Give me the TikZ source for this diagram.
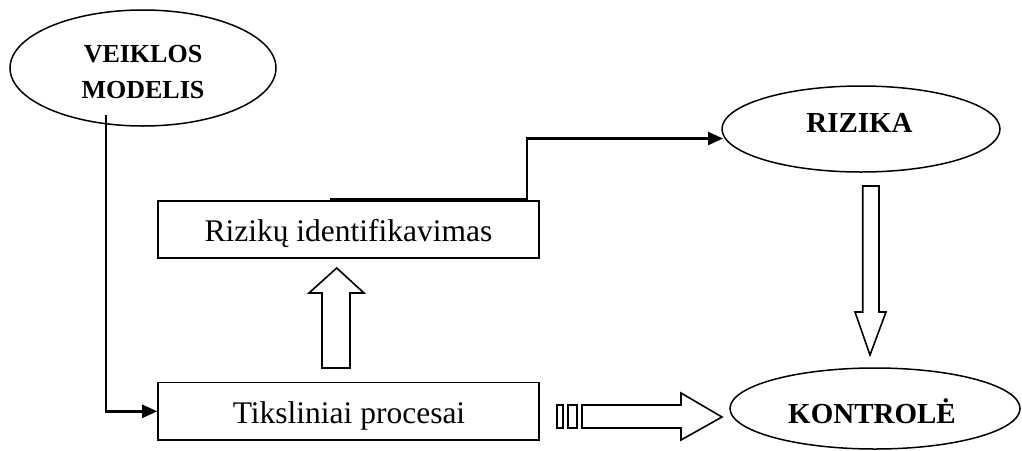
\documentclass[tikz,border=0pt]{standalone}
\usepackage{fontspec}
\setmainfont{Liberation Serif}
\usetikzlibrary{arrows.meta,shapes.geometric}
\begin{document}
\begin{tikzpicture}[x=1pt,y=-1pt,
  oval/.style={draw,ellipse,line width=1.5pt,inner sep=0pt},
  box/.style={draw,rectangle,line width=1.6pt,inner sep=0pt},
  boldtxt/.style={anchor=base,inner sep=0pt,font=\bfseries\fontsize{29}{34}\selectfont},
  regtxt/.style={anchor=base,inner sep=0pt,font=\fontsize{31.5}{36}\selectfont},
  conn/.style={line width=2.4pt,-{Triangle[length=15pt,width=13pt]}},
  hollow/.style={draw,line width=1.6pt,fill=white,line join=miter}]
\useasboundingbox (0,0) rectangle (1022,450);

% ellipses
\node[oval,minimum width=266pt,minimum height=116pt] (veik) at (143,68) {};
\node[oval,minimum width=278pt,minimum height=86pt] (riz) at (861,129) {};
\node[oval,minimum width=290pt,minimum height=81pt] (kon) at (875,408.5) {};

% boxes
\node[box,minimum width=381pt,minimum height=57.5pt] (ident) at (348.5,229.5) {};
\node[box,minimum width=381pt,minimum height=57.5pt] (tiks) at (348.5,411.3) {};

% texts
\node[anchor=base,inner sep=0pt,font=\bfseries\fontsize{26}{36}\selectfont] (t1) at (143,62) {VEIKLOS};
\node[anchor=base,inner sep=0pt,font=\bfseries\fontsize{26}{36}\selectfont] (t2) at (143,98) {MODELIS};
\node[boldtxt] (t3) at (859.5,132.7) {RIZIKA};
\node[boldtxt] (t4) at (872,423) {KONTROLĖ};
\node[regtxt] (t5) at (348.5,241.5) {Rizikų identifikavimas};
\node[regtxt] (t6) at (349,423) {Tiksliniai procesai};

% connectors
\coordinate (v0) at (106,115);
\draw[conn] (v0) |- (tiks.west);
\coordinate (r0) at (330,199);
\coordinate (r1) at (527,199);
\coordinate (r2) at (527,138.5);
\coordinate (rin) at (723,138.5);
\draw[conn] (r0) -- (r1) -- (r2) -- (rin);

% hollow arrows
\draw[hollow] (322,368) -- (322,293) -- (309,293) -- (336.7,268) -- (364,293) -- (350,293) -- (350,368) -- cycle;
\draw[hollow] (862.7,186) -- (862.7,312) -- (855,312) -- (870,355) -- (886,312) -- (879,312) -- (879,186) -- cycle;
\draw[hollow] (557,405) rectangle (563,428);
\draw[hollow] (568,405) rectangle (577,428);
\draw[hollow] (582,405) -- (681,405) -- (681,393) -- (722,417) -- (681,440) -- (681,428) -- (582,428) -- cycle;
\end{tikzpicture}
\end{document}
